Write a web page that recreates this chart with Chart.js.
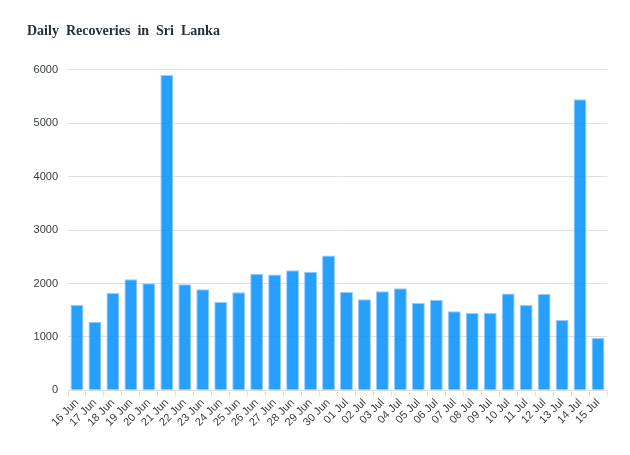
<!DOCTYPE html>
<html>
<head>
<meta charset="utf-8">
<script src="https://cdn.jsdelivr.net/npm/chart.js@4"></script>
<style>
  html, body { margin: 0; padding: 0; background: #fff; }
  #wrap { width: 630px; height: 455px; position: relative; }
</style>
</head>
<body>
<div id="wrap"><canvas id="barChart"></canvas></div>
<script>
// data
const days = ['16 Jun','17 Jun','18 Jun','19 Jun','20 Jun','21 Jun','22 Jun','23 Jun','24 Jun','25 Jun',
  '26 Jun','27 Jun','28 Jun','29 Jun','30 Jun','01 Jul','02 Jul','03 Jul','04 Jul','05 Jul',
  '06 Jul','07 Jul','08 Jul','09 Jul','10 Jul','11 Jul','12 Jul','13 Jul','14 Jul','15 Jul'];
const recoveries = [1603, 1284, 1823, 2079, 2004, 5902, 1985, 1891, 1654, 1835,
  2180, 2167, 2248, 2218, 2524, 1842, 1703, 1853, 1910, 1635,
  1697, 1478, 1447, 1447, 1810, 1598, 1805, 1316, 5451, 977];
const yTicks = [0, 1000, 2000, 3000, 4000, 5000, 6000];

const barChart = document.getElementById('barChart');

Chart.defaults.font.family = '"Liberation Sans", Arial, sans-serif';
Chart.defaults.color = '#373d3f';

new Chart(barChart, {
  type: 'bar',
  data: {
    labels: days,
    datasets: [{
      label: 'Recoveries',
      data: recoveries,
      backgroundColor: 'rgba(0,143,251,0.85)',
      borderColor: 'rgba(140,200,252,0.9)',
      borderWidth: 1,
      barPercentage: 0.72,
      categoryPercentage: 1
    }]
  },
  options: {
    responsive: true,
    maintainAspectRatio: false,
    animation: false,
    layout: { padding: { left: 27, right: 23, top: 17, bottom: 26 } },
    scales: {
      x: {
        offset: true,
        grid: { display: true, drawOnChartArea: false, offset: true, tickLength: 6, color: '#e0e0e0' },
        border: { color: '#e0e0e0' },
        ticks: { maxRotation: 45, minRotation: 45, autoSkip: false, font: { size: 11 }, padding: 0 }
      },
      y: {
        min: 0,
        max: 6000,
        afterBuildTicks: (axis) => { axis.ticks = yTicks.map(v => ({ value: v })); },
        afterFit: (axis) => { axis.width = 41; },
        grid: { color: '#e0e0e0', drawTicks: false },
        border: { display: false },
        ticks: { font: { size: 11 }, padding: 10, callback: (v) => String(v) }
      }
    },
    plugins: {
      legend: { display: false },
      tooltip: { enabled: false },
      title: {
        display: true,
        text: 'Daily  Recoveries  in  Sri  Lanka',
        align: 'start',
        color: '#263238',
        font: { family: '"Liberation Serif", "Times New Roman", serif', size: 14, weight: 'bold' },
        padding: { top: 6, bottom: 30 }
      }
    }
  }
});
</script>
</body>
</html>
